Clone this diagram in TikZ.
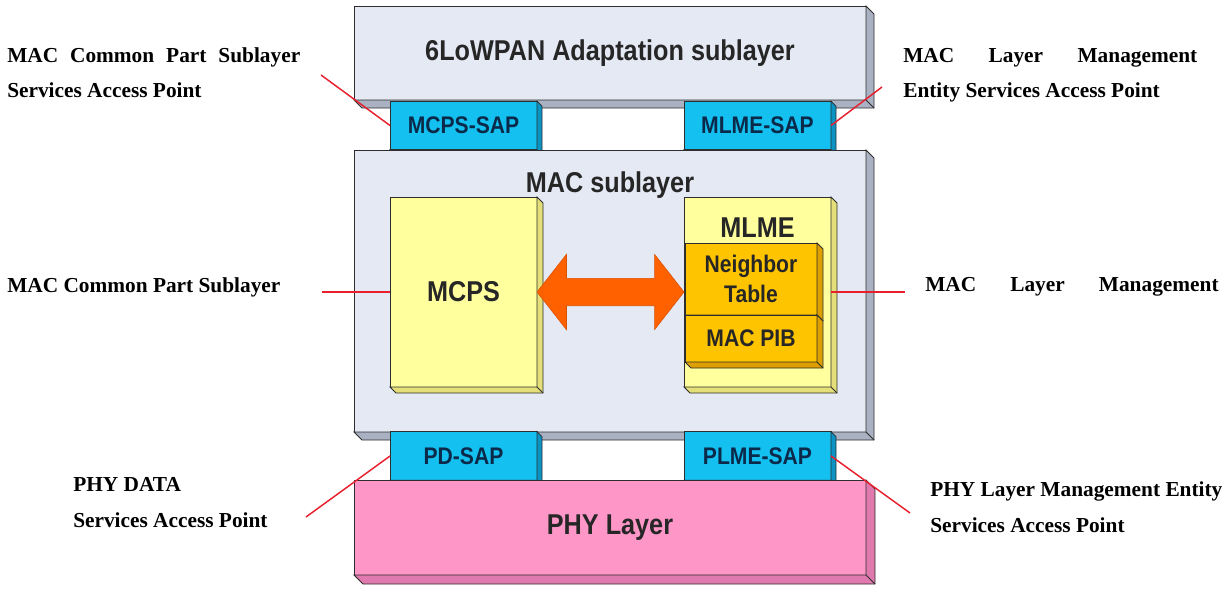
\documentclass[tikz,border=0pt]{standalone}
\usepackage{fontspec}
\setmainfont{Liberation Serif}
\newfontfamily\cajafont[FakeStretch=0.88]{Liberation Sans}
\usetikzlibrary{shapes.arrows, positioning, calc}

\definecolor{cCapa}{HTML}{E4E9F4}
\definecolor{cCapaL}{HTML}{A9B1C2}
\definecolor{cSap}{HTML}{14C0F0}
\definecolor{cSapL}{HTML}{0B93C4}
\definecolor{cAmarillo}{HTML}{FFFF9E}
\definecolor{cAmarilloL}{HTML}{E4DF78}
\definecolor{cNaranja}{HTML}{FFC400}
\definecolor{cNaranjaL}{HTML}{DDA000}
\definecolor{cRosa}{HTML}{FF96C8}
\definecolor{cRosaL}{HTML}{E07AAE}
\definecolor{cFlecha}{HTML}{FF6000}
\definecolor{cBorde}{HTML}{2E2E2E}
\definecolor{cRojo}{HTML}{E8202E}
\definecolor{cAzulTexto}{HTML}{0B2A4A}

% relieve de una caja: nodo, profundidad, color
\newcommand{\relieve}[3]{%
  \filldraw[fill=#3, draw=cBorde, line width=0.6pt] (#1.south west) -- ++(#2,#2)
    -| ($(#1.north east)+(#2,#2)$) -- (#1.north east) -- (#1.south east) -- cycle;
  \draw[cBorde, line width=0.6pt] (#1.south east) -- ++(#2,#2);}

\begin{document}
\begin{tikzpicture}[x=0.75pt, y=-0.75pt,
    caja/.style={draw=cBorde, line width=0.7pt, inner sep=0pt, outer sep=0pt},
    capa/.style={caja, fill=cCapa, text=black!85, minimum width=384pt,
      font=\cajafont\bfseries\fontsize{21.5}{24}\selectfont},
    sap/.style={caja, fill=cSap, text=cAzulTexto, minimum width=110.25pt, minimum height=36.5pt,
      font=\cajafont\bfseries\fontsize{18}{22}\selectfont},
    bloque/.style={caja, fill=cAmarillo, text=black!85, minimum width=110.25pt, minimum height=142.5pt,
      font=\cajafont\bfseries\fontsize{21.5}{24}\selectfont},
    tabla/.style={caja, fill=cNaranja, text=black!85, align=center, minimum width=99pt,
      font=\cajafont\bfseries\fontsize{18}{22}\selectfont},
    titulo/.style={inner sep=0pt, text=black!85, font=\cajafont\bfseries\fontsize{21.5}{24}\selectfont},
    doble/.style={double arrow, fill=cFlecha, draw=cFlecha!85!black, line width=0.4pt,
      double arrow head extend=18pt, double arrow tip angle=104, inner xsep=0pt, inner ysep=10.1pt},
    etiqueta/.style={inner sep=0pt, anchor=north west, align=left, font=\bfseries\fontsize{16}{26.5}\selectfont},
    enlace/.style={draw=cRojo, line width=1.1pt},
    enlaceH/.style={draw=cRojo, line width=1.8pt},
  ]
  \useasboundingbox (0,0) rectangle (1223,589);

  % Capa de adaptacion
  \node[capa, minimum height=70.5pt] (sixlo) at (610,53) {6LoWPAN Adaptation sublayer};
  \relieve{sixlo}{8}{cCapaL}

  % SAP superiores
  \node[sap] (mcpssap) at (463.5,125.5) {MCPS-SAP};
  \relieve{mcpssap}{5}{cSapL}
  \node[sap] (mlmesap) at (757.5,125.5) {MLME-SAP};
  \relieve{mlmesap}{5}{cSapL}

  % Subcapa MAC
  \node[capa, minimum height=211.5pt] (mac) at (610,291) {};
  \relieve{mac}{8}{cCapaL}
  \node[titulo, below=16pt of mac.north] (mactxt) {MAC sublayer};

  % Bloques MCPS y MLME
  \node[bloque] (mcps) at (463.5,292) {MCPS};
  \relieve{mcps}{6}{cAmarilloL}
  \node[bloque] (mlme) at (757.5,292) {};
  \relieve{mlme}{6}{cAmarilloL}
  \node[titulo, below=15.5pt of mlme.north] (mlmetxt) {MLME};
  \node[tabla, minimum height=54pt] (ntable) at (751,279) {Neighbor\\Table};
  \relieve{ntable}{6}{cNaranjaL}
  \node[tabla, minimum height=35.25pt] (macpib) at (751,338.5) {MAC PIB};
  \relieve{macpib}{6}{cNaranjaL}

  % Flecha doble
  \node[doble, minimum height=110.25pt] (flecha) at ($(mcps.east)!0.5!(mlme.west)$) {};

  % SAP inferiores
  \node[sap] (pdsap) at (463.5,456) {PD-SAP};
  \relieve{pdsap}{5}{cSapL}
  \node[sap] (plmesap) at (757.5,456) {PLME-SAP};
  \relieve{plmesap}{5}{cSapL}

  % Capa PHY
  \node[capa, fill=cRosa, minimum height=71.25pt] (phy) at (610,527.5) {PHY Layer};
  \relieve{phy}{9}{cRosaL}

  % Lineas rojas
  \coordinate (pA) at (321,75);
  \coordinate (pB) at (882,87);
  \coordinate (pC) at (322,292);
  \coordinate (pD) at (905,292);
  \coordinate (pE) at (306,517);
  \coordinate (pF) at (910,513);
  \draw[enlace] (pA) -- (mcpssap.west);
  \draw[enlace] (mlmesap.east) -- (pB);
  \draw[enlaceH] (pC) -- (mcps.west);
  \draw[enlaceH] (mlme.east) -- (pD);
  \draw[enlace] (pE) -- (pdsap.west);
  \draw[enlace] (plmesap.east) -- (pF);

  % Etiquetas
  \node[etiqueta] (lblA) at (7,47) {\makebox[219.75pt][s]{MAC Common Part Sublayer}\\Services Access Point};
  \node[etiqueta] (lblB) at (903,48) {\makebox[220.5pt][s]{MAC Layer Management}\\Entity Services Access Point};
  \node[etiqueta] (lblC) at (7,277) {MAC Common Part Sublayer};
  \node[etiqueta] (lblD) at (925,277) {\makebox[220pt][s]{MAC Layer Management}};
  \node[etiqueta, font=\bfseries\fontsize{16}{27}\selectfont] (lblE) at (73,477) {PHY DATA\\Services Access Point};
  \node[etiqueta, font=\bfseries\fontsize{16}{27.5}\selectfont] (lblF) at (930,481) {PHY Layer Management Entity\\Services Access Point};
\end{tikzpicture}
\end{document}
